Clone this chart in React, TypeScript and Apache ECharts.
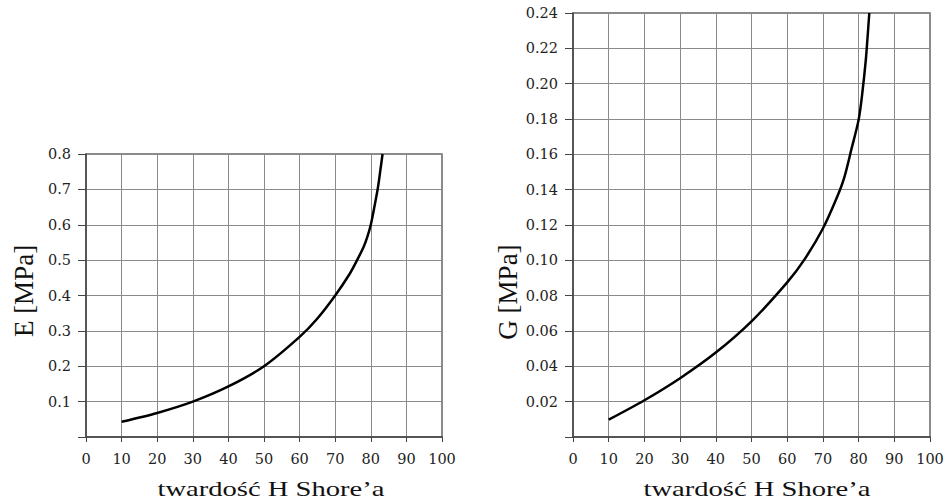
import React, { useEffect, useRef } from "react";
import * as echarts from "echarts";

const hardnessE = [10, 20, 30, 40, 50, 60, 65, 70, 74, 76, 78, 79, 80, 81, 82, 82.7, 83.3];
const valuesE = [0.043, 0.068, 0.1, 0.143, 0.2, 0.283, 0.335, 0.4, 0.46, 0.497, 0.538, 0.565, 0.6, 0.65, 0.705, 0.755, 0.8];

const hardnessG = [10, 20, 30, 40, 50, 60, 65, 70, 74, 76, 78, 80, 81, 82, 82.5, 83];
const valuesG = [0.0098, 0.0208, 0.0333, 0.0478, 0.0655, 0.0875, 0.101, 0.118, 0.136, 0.147, 0.163, 0.1795, 0.194, 0.213, 0.226, 0.24];

const xTitle = "twardość H Shore’a";
const yTitleE = "E [MPa]";
const yTitleG = "G [MPa]";

const FONT = "Liberation Serif";
const TICK_FONT = "DejaVu Serif";

export default function App() {
  const ref = useRef<HTMLDivElement>(null);
  useEffect(() => {
    const chart = echarts.init(ref.current!, undefined, { renderer: "svg" });
    const axisX = (gridIndex: number) => ({
      type: "value",
      gridIndex,
      min: 0,
      max: 100,
      interval: 10,
      axisLine: { show: true, onZero: false, lineStyle: { color: "#444", width: 1.5 } },
      axisTick: { show: true, length: 5, inside: false, lineStyle: { color: "#444" } },
      axisLabel: { fontFamily: TICK_FONT, fontSize: 14.5, color: "#222", margin: 14 },
      splitLine: { show: true, lineStyle: { color: "#8a8a8a", width: 1 } },
    });
    const axisY = (gridIndex: number, max: number, interval: number, digits: number) => ({
      type: "value",
      gridIndex,
      min: 0,
      max,
      interval,
      axisLine: { show: true, lineStyle: { color: "#444", width: 1.5 } },
      axisTick: { show: true, length: 8, lineStyle: { color: "#444" } },
      axisLabel: {
        fontFamily: TICK_FONT,
        fontSize: 14.5,
        color: "#222",
        margin: 15,
        formatter: (v: number) => (v === 0 ? "" : v.toFixed(digits)),
      },
      splitLine: { show: true, lineStyle: { color: "#8a8a8a", width: 1 } },
    });
    const xTitleText = (x: number) => ({
      type: "text",
      x,
      y: 489,
      scaleX: 1.3,
      style: { text: xTitle, fontFamily: FONT, fontSize: 22, fill: "#111", align: "center", verticalAlign: "middle" },
    });
    const yTitleText = (x: number, y: number, text: string) => ({
      type: "text",
      x,
      y,
      rotation: Math.PI / 2,
      style: { text, fontFamily: FONT, fontSize: 27, fill: "#111", align: "center", verticalAlign: "middle" },
    });
    chart.setOption({
      animation: false,
      backgroundColor: "#fff",
      grid: [
        { left: 86, top: 154, width: 356, height: 283, show: true, borderColor: "#666", borderWidth: 1.5, containLabel: false },
        { left: 573, top: 13, width: 357, height: 424, show: true, borderColor: "#666", borderWidth: 1.5, containLabel: false },
      ],
      xAxis: [axisX(0), axisX(1)],
      yAxis: [axisY(0, 0.8, 0.1, 1), axisY(1, 0.24, 0.02, 2)],
      graphic: [
        xTitleText(271),
        xTitleText(757),
        yTitleText(24, 291, yTitleE),
        yTitleText(508, 292, yTitleG),
      ],
      series: [
        {
          type: "line",
          xAxisIndex: 0,
          yAxisIndex: 0,
          data: hardnessE.map((h, i) => [h, valuesE[i]]),
          smooth: 0.3,
          showSymbol: false,
          lineStyle: { color: "#000", width: 2.5 },
        },
        {
          type: "line",
          xAxisIndex: 1,
          yAxisIndex: 1,
          data: hardnessG.map((h, i) => [h, valuesG[i]]),
          smooth: 0.3,
          showSymbol: false,
          lineStyle: { color: "#000", width: 2.5 },
        },
      ],
    });
    return () => chart.dispose();
  }, []);
  return <div ref={ref} style={{ position: "fixed", left: 0, top: 0, width: 947, height: 504 }} />;
}
